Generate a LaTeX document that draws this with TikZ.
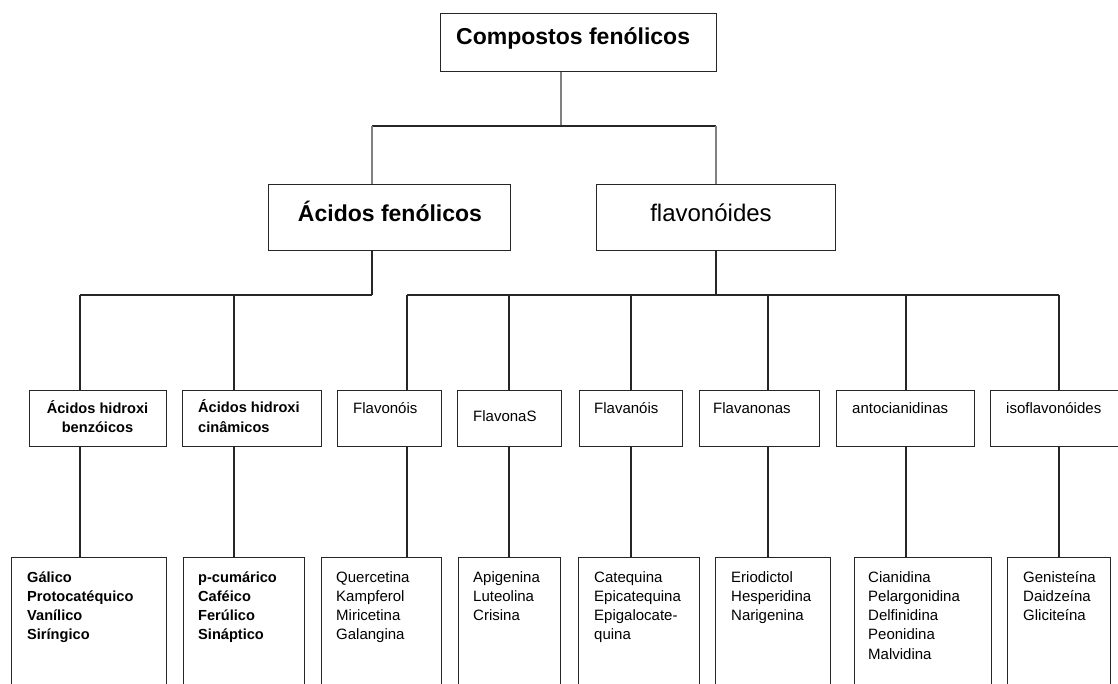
\documentclass[tikz,border=0pt]{standalone}
\usepackage{fontspec}
\setmainfont{Liberation Sans}
\usetikzlibrary{calc}
\begin{document}
\begin{tikzpicture}[x=1pt,y=-1pt,
  box/.style={draw=black!85, line width=1.2pt, fill=white, inner sep=0pt, anchor=north west},
  ln/.style={draw=black!85, line width=1.2pt},
  lg/.style={draw=black!50, line width=1.6pt},
  bigb/.style={font=\bfseries\fontsize{23}{27}\selectfont, inner sep=0pt, anchor=base west},
  bigr/.style={font=\fontsize{24}{28}\selectfont, inner sep=0pt, anchor=base west},
  smr/.style={font=\fontsize{15}{19.3}\selectfont, inner sep=0pt, align=left, anchor=base west},
  smb/.style={font=\bfseries\fontsize{14.6}{19.3}\selectfont, inner sep=0pt, align=left, anchor=base west},
  smbc/.style={font=\bfseries\fontsize{14.6}{19.2}\selectfont, inner sep=0pt, align=center, anchor=base},
]
\useasboundingbox (0,0) rectangle (1118,684);
\clip (0,0) rectangle (1118,684);
\fill[white] (0,0) rectangle (1118,684);

% top level
\node[box, minimum width=276pt, minimum height=58pt] (top) at (440,13) {};
\node[bigb] (ttop) at (456,45) {Compostos fenólicos};

% level 1
\node[box, minimum width=242pt, minimum height=66pt] (af) at (268,184) {};
\node[bigb, anchor=base] (taf) at (390,222) {Ácidos fenólicos};
\node[box, minimum width=239pt, minimum height=66pt] (fl) at (596,184) {};
\node[bigr, anchor=base] (tfl) at (711,222) {flavonóides};

% level 2 boxes
\node[box, minimum width=137pt, minimum height=56pt] (b1) at (29,390) {};
\node[box, minimum width=139pt, minimum height=56pt] (b2) at (182,390) {};
\node[box, minimum width=104pt, minimum height=56pt] (b3) at (337,390) {};
\node[box, minimum width=104pt, minimum height=56pt] (b4) at (457,390) {};
\node[box, minimum width=103pt, minimum height=56pt] (b5) at (579,390) {};
\node[box, minimum width=120pt, minimum height=56pt] (b6) at (699,390) {};
\node[box, minimum width=138pt, minimum height=56pt] (b7) at (836,390) {};
\node[box, minimum width=150pt, minimum height=56pt] (b8) at (990,390) {};

% (multi-line nodes: base anchor = baseline of last line)
\node[smbc] (tb1) at (97.5,432.2) {Ácidos hidroxi\\benzóicos};
\node[smb] (tb2) at (198,432.2) {Ácidos hidroxi\\cinâmicos};
\node[smr] (tb3) at (353,413) {Flavonóis};
\node[smr] (tb4) at (473,421) {FlavonaS};
\node[smr] (tb5) at (594,413) {Flavanóis};
\node[smr] (tb6) at (713,413) {Flavanonas};
\node[smr] (tb7) at (852,413) {antocianidinas};
\node[smr] (tb8) at (1006,413) {isoflavonóides};

% level 3 boxes
\node[box, minimum width=155pt, minimum height=150pt] (c1) at (11,557) {};
\node[box, minimum width=121pt, minimum height=150pt] (c2) at (183,557) {};
\node[box, minimum width=120pt, minimum height=150pt] (c3) at (321,557) {};
\node[box, minimum width=102pt, minimum height=150pt] (c4) at (458,557) {};
\node[box, minimum width=121pt, minimum height=150pt] (c5) at (578,557) {};
\node[box, minimum width=115pt, minimum height=150pt] (c6) at (715,557) {};
\node[box, minimum width=137pt, minimum height=150pt] (c7) at (854,557) {};
\node[box, minimum width=103pt, minimum height=150pt] (c8) at (1007,557) {};

\node[smb] (tc1) at (27,639.9) {Gálico\\Protocatéquico\\Vanílico\\Siríngico};
\node[smb] (tc2) at (198,639.9) {p-cumárico\\Caféico\\Ferúlico\\Sináptico};
\node[smr] (tc3) at (336,639.9) {Quercetina\\Kampferol\\Miricetina\\Galangina};
\node[smr] (tc4) at (473,620.6) {Apigenina\\Luteolina\\Crisina};
\node[smr] (tc5) at (594,639.9) {Catequina\\Epicatequina\\Epigalocate-\\quina};
\node[smr] (tc6) at (731,620.6) {Eriodictol\\Hesperidina\\Narigenina};
\node[smr] (tc7) at (868,659.2) {Cianidina\\Pelargonidina\\Delfinidina\\Peonidina\\Malvidina};
\node[smr] (tc8) at (1023,620.6) {Genisteína\\Daidzeína\\Gliciteína};

% junction coordinates
\coordinate (j0) at (561,126);
\coordinate (ja) at (372,126);
\coordinate (jf) at (716,126);
\coordinate (ka) at (372,295);
\coordinate (kf) at (716,295);
\coordinate (p1) at (80,295);
\coordinate (p2) at (234,295);
\coordinate (p3) at (407,295);
\coordinate (p4) at (509,295);
\coordinate (p5) at (631,295);
\coordinate (p6) at (768,295);
\coordinate (p7) at (906,295);
\coordinate (p8) at (1059,295);

% connectors top
\draw[lg] (top.south -| j0) -- (j0);
\draw[ln] (ja) -- (jf);
\draw[lg] (ja) -- (ja |- af.north);
\draw[lg] (jf) -- (jf |- fl.north);

% connectors level 1 -> 2
\draw[ln] (ka |- af.south) -- (ka);
\draw[ln] (kf |- fl.south) -- (kf);
\draw[ln] (p1) -- (ka);
\draw[ln] (p3) -- (p8);
\draw[ln] (p1) -- (p1 |- b1.north);
\draw[ln] (p2) -- (p2 |- b2.north);
\draw[ln] (p3) -- (p3 |- b3.north);
\draw[ln] (p4) -- (p4 |- b4.north);
\draw[ln] (p5) -- (p5 |- b5.north);
\draw[ln] (p6) -- (p6 |- b6.north);
\draw[ln] (p7) -- (p7 |- b7.north);
\draw[ln] (p8) -- (p8 |- b8.north);

% connectors level 2 -> 3
\draw[ln] (p1 |- b1.south) -- (p1 |- c1.north);
\draw[ln] (p2 |- b2.south) -- (p2 |- c2.north);
\draw[ln] (p3 |- b3.south) -- (p3 |- c3.north);
\draw[ln] (p4 |- b4.south) -- (p4 |- c4.north);
\draw[ln] (p5 |- b5.south) -- (p5 |- c5.north);
\draw[ln] (p6 |- b6.south) -- (p6 |- c6.north);
\draw[ln] (p7 |- b7.south) -- (p7 |- c7.north);
\draw[ln] (p8 |- b8.south) -- (p8 |- c8.north);
\end{tikzpicture}
\end{document}
